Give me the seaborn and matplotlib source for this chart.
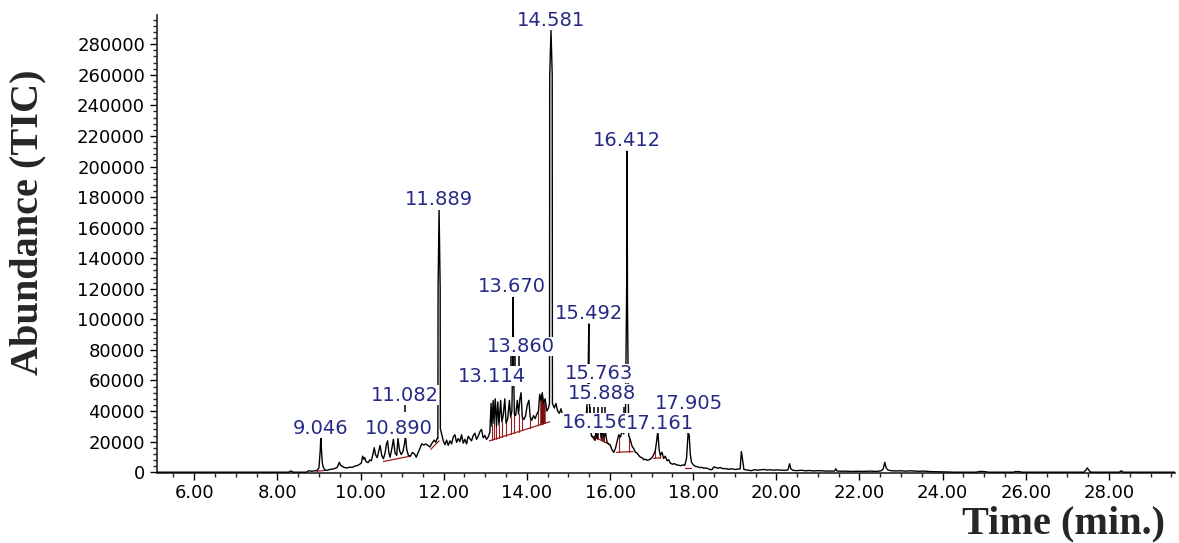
import numpy as np
import seaborn as sns
import matplotlib.pyplot as plt
from matplotlib.ticker import MultipleLocator, FuncFormatter

# --- chromatogram trace (time in min, abundance) ---
time_min = [
    5.10, 8.28, 8.30, 8.34, 8.38, 8.70, 8.74, 8.78, 8.82, 8.90, 8.96, 9.00, 9.03, 9.046, 9.06, 9.08,
    9.10, 9.14, 9.20, 9.26, 9.32, 9.38, 9.44, 9.49, 9.52, 9.56, 9.62, 9.68, 9.74, 9.80, 9.86, 9.92,
    9.97, 10.02, 10.05, 10.08, 10.10, 10.13, 10.18, 10.22, 10.26, 10.30, 10.33, 10.36, 10.40, 10.43,
    10.47, 10.51, 10.55, 10.59, 10.62, 10.65, 10.68, 10.71, 10.75, 10.79, 10.83, 10.87, 10.90, 10.94,
    10.98, 11.02, 11.06, 11.08, 11.11, 11.15, 11.20, 11.25, 11.30, 11.34, 11.38, 11.42, 11.47, 11.52,
    11.57, 11.62, 11.67, 11.72, 11.77, 11.81, 11.84, 11.86, 11.865, 11.889, 11.915, 11.92, 11.95,
    11.99, 12.03, 12.07, 12.11, 12.15, 12.19, 12.23, 12.27, 12.31, 12.35, 12.39, 12.43, 12.47, 12.51,
    12.55, 12.59, 12.63, 12.67, 12.71, 12.75, 12.79, 12.83, 12.87, 12.91, 12.95, 12.99, 13.03, 13.07,
    13.11, 13.14, 13.16, 13.19, 13.21, 13.24, 13.27, 13.30, 13.33, 13.37, 13.40, 13.43, 13.47, 13.50,
    13.54, 13.58, 13.61, 13.64, 13.66, 13.67, 13.68, 13.70, 13.73, 13.77, 13.80, 13.83, 13.86, 13.89,
    13.93, 13.97, 14.01, 14.05, 14.08, 14.12, 14.16, 14.20, 14.24, 14.28, 14.31, 14.34, 14.37, 14.40,
    14.44, 14.48, 14.52, 14.545, 14.55, 14.581, 14.61, 14.615, 14.63, 14.66, 14.70, 14.74, 14.78,
    14.82, 14.86, 14.90, 14.94, 14.98, 15.02, 15.06, 15.10, 15.14, 15.18, 15.22, 15.26, 15.30, 15.34,
    15.38, 15.42, 15.47, 15.49, 15.50, 15.52, 15.56, 15.60, 15.63, 15.66, 15.69, 15.72, 15.76, 15.79,
    15.82, 15.86, 15.89, 15.93, 15.97, 16.01, 16.05, 16.09, 16.13, 16.17, 16.21, 16.25, 16.29, 16.33,
    16.37, 16.40, 16.412, 16.42, 16.45, 16.49, 16.53, 16.57, 16.61, 16.65, 16.69, 16.73, 16.77, 16.81,
    16.85, 16.89, 16.93, 16.97, 17.01, 17.05, 17.09, 17.12, 17.15, 17.18, 17.21, 17.25, 17.29, 17.33,
    17.37, 17.41, 17.45, 17.50, 17.55, 17.60, 17.65, 17.70, 17.75, 17.80, 17.84, 17.88, 17.905, 17.93,
    17.96, 18.00, 18.05, 18.10, 18.15, 18.20, 18.25, 18.30, 18.35, 18.40, 18.45, 18.50, 18.55, 18.60,
    18.65, 18.70, 18.78, 18.85, 18.92, 19.00, 19.08, 19.13, 19.16, 19.19, 19.22, 19.28, 19.35, 19.40,
    19.48, 19.55, 19.62, 19.70, 19.78, 19.85, 19.92, 20.00, 20.10, 20.20, 20.28, 20.32, 20.35, 20.40,
    20.50, 20.60, 20.70, 20.80, 20.90, 21.00, 21.10, 21.20, 21.30, 21.40, 21.43, 21.46, 21.55, 21.65,
    21.80, 21.95, 22.10, 22.25, 22.40, 22.52, 22.57, 22.61, 22.64, 22.68, 22.75, 22.85, 23.00, 23.10,
    23.25, 23.40, 23.55, 23.70, 23.85, 24.00, 24.30, 24.80, 24.90, 25.00, 25.10, 25.70, 25.75, 25.85,
    25.90, 27.40, 27.45, 27.48, 27.52, 27.56, 28.25, 28.30, 28.34, 29.60,
]
abundance = [
    0, 0, 600, 700, 0, 0, 800, 900, 600, 900, 1200, 3000, 14000, 23500, 15000, 6000,
    3500, 1500, 1200, 1800, 2000, 2400, 3200, 6500, 4500, 3800, 3000, 2800, 3300, 3100, 4000, 4300,
    5000, 6000, 10500, 8500, 9500, 7000, 6200, 8000, 7500, 12000, 16000, 11500, 9500, 13000,
    17500, 11000, 8800, 12500, 18000, 20500, 13000, 9800, 15000, 21500, 12500, 11000, 22000, 14000,
    11500, 13500, 19000, 24000, 15000, 11000, 10500, 13000, 11800, 9800, 12500, 15000, 18500, 17800,
    18500, 17500, 16500, 19000, 21000, 19500, 22000, 22000, 120000, 172000, 120000, 28500, 25000,
    20500, 18000, 21000, 17500, 20500, 18500, 23000, 24500, 19500, 22000, 20000, 24500, 19000, 21500,
    18500, 23500, 22000, 20500, 24000, 25500, 21500, 23500, 26500, 28000, 22500, 24000, 21500, 23000,
    26000, 45000, 30000, 47000, 32000, 48000, 30000, 46000, 31000, 47000, 33000, 37000, 48000, 32000,
    35000, 47000, 36000, 40000, 75000, 115000, 70000, 38000, 37000, 47000, 38000, 47500, 52000, 36000,
    34500, 37000, 44000, 47000, 36000, 34000, 37000, 35000, 38000, 40000, 51000, 47000, 52000, 45000,
    48000, 40000, 42000, 45000, 260000, 289000, 260000, 45000, 44000, 42000, 45000, 40000, 38500,
    41500, 37000, 34500, 33000, 31500, 34000, 36000, 31000, 35500, 32000, 29000, 27000, 26000, 28500,
    29500, 32000, 55000, 97000, 55000, 28000, 23500, 22500, 21000, 26500, 22000, 27000, 28000, 22000,
    27500, 23000, 26000, 19500, 18500, 17500, 14500, 13000, 15500, 20000, 24500, 23000, 27000, 25000,
    30000, 120000, 210000, 110000, 24000, 21000, 17000, 15500, 13000, 12500, 11000, 9800, 9500, 8200,
    8500, 7800, 8000, 8600, 9500, 11500, 14000, 20000, 27000, 15000, 11000, 13000, 9000, 10500,
    7500, 8200, 6000, 5200, 5600, 4800, 4600, 4200, 4800, 4500, 9000, 26000, 24000, 12000,
    6500, 5000, 3800, 3600, 3000, 3200, 2600, 2800, 2400, 1800, 1600, 3500, 3000, 2600,
    3100, 2400, 2300, 1900, 2200, 1800, 2000, 2200, 13500, 8000, 1800, 1500, 1200, 1000,
    1600, 1300, 1500, 1800, 1400, 1600, 1300, 1500, 1400, 1200, 1500, 5500, 2200, 1200,
    1000, 1300, 900, 1100, 800, 1000, 900, 700, 800, 700, 2200, 800, 600, 700,
    500, 600, 500, 700, 500, 900, 2000, 6500, 3000, 1500, 1000, 800, 900, 700,
    900, 600, 700, 400, 300, 200, 0, 0, 500, 400, 0, 0, 400, 400,
    0, 0, 1500, 2800, 1200, 0, 0, 900, 0, 0,
]

# integration baselines (start time, start abundance, end time, end abundance)
base_t0 = [8.95, 10.55, 11.69, 13.10, 15.55, 16.15, 17.05, 17.80]
base_a0 = [600, 7000, 15000, 20500, 24000, 13000, 9000, 3000]
base_t1 = [9.15, 11.20, 11.89, 14.55, 16.00, 16.55, 17.22, 17.95]
base_a1 = [1200, 10500, 20500, 33000, 18000, 13500, 9500, 3000]

# peak drop lines inside clusters
drop_t = [13.16, 13.21, 13.27, 13.33, 13.40, 13.50, 13.61, 13.70, 13.80, 13.89, 14.08, 14.28,
          15.63, 15.69, 15.79, 15.86, 16.21, 16.45, 17.09, 17.21]
# filled peaks
fill_t0 = [14.29, 15.64, 15.78]
fill_t1 = [14.47, 15.74, 15.88]

# short label marker ticks (time, top, bottom)
mark_t = [11.08, 13.62, 13.72, 13.81, 15.44, 15.53, 15.62, 15.71, 15.80, 15.89, 16.33]
mark_top = [44400, 77000, 77000, 77000, 42500, 42500, 42500, 42500, 42500, 42500, 42500]
mark_bot = [39200, 68500, 68500, 68500, 38000, 38000, 38000, 38000, 38000, 38000, 38000]

# peak labels: text, time, abundance (partly covered ones first)
label_text = ["13.114", "16.156", "17.161",
              "9.046", "10.890", "11.082", "17.905", "15.888", "15.763",
              "13.860", "15.492", "13.670", "11.889", "16.412", "14.581"]
label_t = [13.17, 15.66, 17.19,
           9.05, 10.93, 11.07, 17.90, 15.81, 15.74,
           13.86, 15.50, 13.64, 11.89, 16.41, 14.58]
label_a = [62700, 32300, 32000,
           28700, 28700, 50300, 44800, 51300, 64600,
           82200, 103800, 121400, 178200, 217300, 295700]

sns.set_style("ticks")
fig = plt.figure(figsize=(11.79, 5.43), dpi=100)
ax = fig.add_axes([0.133, 0.129, 0.864, 0.843])

sns.lineplot(x=time_min, y=abundance, ax=ax, color='black', linewidth=1.0,
             estimator=None, sort=False, zorder=3)

# red integration baselines and drops
tt = np.array(time_min)
aa = np.array(abundance)
for t0, a0, t1, a1 in zip(base_t0, base_a0, base_t1, base_a1):
    ax.plot([t0, t1], [a0, a1], color='#9b1b1b', lw=0.9, zorder=2)

def base_at(t):
    for t0, a0, t1, a1 in zip(base_t0, base_a0, base_t1, base_a1):
        if t0 <= t <= t1:
            return a0 + (a1 - a0) * (t - t0) / (t1 - t0)
    return None

for t in drop_t:
    b = base_at(t)
    if b is not None:
        ax.plot([t, t], [b, np.interp(t, tt, aa)], color='#9b1b1b', lw=0.8, zorder=2)

for t0, t1 in zip(fill_t0, fill_t1):
    m = (tt >= t0) & (tt <= t1)
    xs = tt[m]
    lo = [base_at(x) or 0 for x in xs]
    ax.fill_between(xs, lo, aa[m], color='#7a0d0d', lw=0, zorder=2)

ax.vlines(mark_t, mark_bot, mark_top, color='black', lw=1.1, zorder=4)

for s, t, a in zip(label_text, label_t, label_a):
    ax.text(t, a, s, ha='center', va='center', fontsize=14, color='#262a85',
            zorder=5, bbox=dict(facecolor='white', edgecolor='none', pad=0.3))

ax.set_xlim(5.1, 29.6)
ax.set_ylim(-500, 299000)
ax.xaxis.set_major_locator(MultipleLocator(2))
ax.xaxis.set_minor_locator(MultipleLocator(0.5))
ax.yaxis.set_major_locator(MultipleLocator(20000))
ax.yaxis.set_minor_locator(MultipleLocator(4000))
ax.xaxis.set_major_formatter(FuncFormatter(lambda v, p: f"{v:.2f}" if v >= 6 else ""))
ax.yaxis.set_major_formatter(FuncFormatter(lambda v, p: f"{int(v)}" if v <= 280000 else ""))
ax.tick_params(axis='both', which='major', length=5, width=1, labelsize=13, colors='black')
ax.tick_params(axis='both', which='minor', length=3, width=1)
ax.tick_params(axis='x', pad=3)
sns.despine(ax=ax)
for sp in ['left', 'bottom']:
    ax.spines[sp].set_linewidth(1.2)
ax.set_xlabel('')
ax.set_ylabel('')

fig.text(0.024, 0.591, 'Abundance (TIC)', rotation=90, ha='center', va='center',
         fontsize=29, fontweight='bold', family='Liberation Serif')
fig.text(0.902, 0.036, 'Time (min.)', ha='center', va='center',
         fontsize=29, fontweight='bold', family='Liberation Serif')

fig.savefig('out.png', dpi=100)
